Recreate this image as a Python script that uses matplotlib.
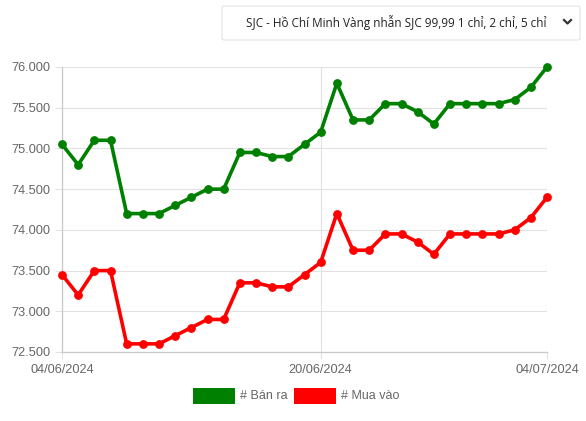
import matplotlib
matplotlib.use("Agg")
import matplotlib.pyplot as plt
from matplotlib.patches import FancyBboxPatch, Rectangle
import pandas as pd

# data (thousand VND / chi)
dates = pd.date_range("2024-06-04", "2024-07-04", freq="D")
ban_ra = [75.05, 74.80, 75.10, 75.10, 74.20, 74.20, 74.20, 74.30, 74.40, 74.50,
          74.50, 74.95, 74.95, 74.90, 74.90, 75.05, 75.20, 75.80, 75.35, 75.35,
          75.55, 75.55, 75.45, 75.30, 75.55, 75.55, 75.55, 75.55, 75.60, 75.75,
          76.00]
mua_vao = [73.45, 73.20, 73.50, 73.50, 72.60, 72.60, 72.60, 72.70, 72.80, 72.90,
           72.90, 73.35, 73.35, 73.30, 73.30, 73.45, 73.60, 74.20, 73.75, 73.75,
           73.95, 73.95, 73.85, 73.70, 73.95, 73.95, 73.95, 73.95, 74.00, 74.15,
           74.40]
yticks = [72.5, 73.0, 73.5, 74.0, 74.5, 75.0, 75.5, 76.0]
xtick_dates = ["2024-06-04", "2024-06-20", "2024-07-04"]
series_names = ["# Bán ra", "# Mua vào"]
title = "SJC - Hồ Chí Minh Vàng nhẫn SJC 99,99 1 chỉ, 2 chỉ, 5 chỉ"

GREEN = "#008000"
RED = "#ff0000"

W, H = 586, 421
fig = plt.figure(figsize=(W / 100, H / 100), dpi=100)
ax = fig.add_axes([62 / W, 1 - 352 / H, (547 - 62) / W, (352 - 67) / H])

ax.plot(dates, ban_ra, color=GREEN, lw=2.6, marker="o", ms=5.3, clip_on=False, zorder=3)
ax.plot(dates, mua_vao, color=RED, lw=2.6, marker="o", ms=5.3, clip_on=False, zorder=3)

ax.set_ylim(yticks[0], yticks[-1])
ax.set_xlim(dates[0], dates[-1])
ax.set_yticks(yticks)
ax.set_yticklabels([f"{v:.3f}" for v in yticks])
xt = pd.to_datetime(xtick_dates)
ax.set_xticks(xt)
ax.set_xticklabels([d.strftime("%d/%m/%Y") for d in xt])

ax.grid(True, color="#e2e2e2", lw=0.8)
ax.set_axisbelow(True)
for s in ["top", "right"]:
    ax.spines[s].set_visible(False)
for s in ["left", "bottom"]:
    ax.spines[s].set_color("#c8c8c8")
    ax.spines[s].set_linewidth(0.9)
ax.tick_params(colors="#e2e2e2", labelcolor="#666666", labelsize=9.2, length=5, width=0.8)
for lab in ax.get_xticklabels() + ax.get_yticklabels():
    lab.set_family("Liberation Sans")

# dropdown box at the top
box = FancyBboxPatch((222 / W, 1 - 40 / H), (580 - 222) / W, 34 / H,
                     boxstyle="round,pad=0,rounding_size=0.004",
                     transform=fig.transFigure, fc="white", ec="#e3e3e3", lw=0.8)
fig.patches.append(box)
fig.text(246 / W, 1 - 22 / H, title, fontsize=8.45, family="Open Sans",
         color="#222222", va="center", ha="left")
fig.lines.append(plt.Line2D([564 / W, 567.5 / W, 571 / W],
                            [1 - 20 / H, 1 - 23.5 / H, 1 - 20 / H],
                            transform=fig.transFigure, color="#333333", lw=1.6))

# legend
for x0, col, name in [(193, GREEN, series_names[0]), (294, RED, series_names[1])]:
    fig.patches.append(Rectangle((x0 / W, 1 - 404 / H), 42 / W, 16 / H,
                                 transform=fig.transFigure, fc=col, ec="none"))
    fig.text((x0 + 47) / W, 1 - 396 / H, name, fontsize=9, family="Liberation Sans",
             color="#666666", va="center", ha="left")

fig.savefig("out.png", dpi=100)
